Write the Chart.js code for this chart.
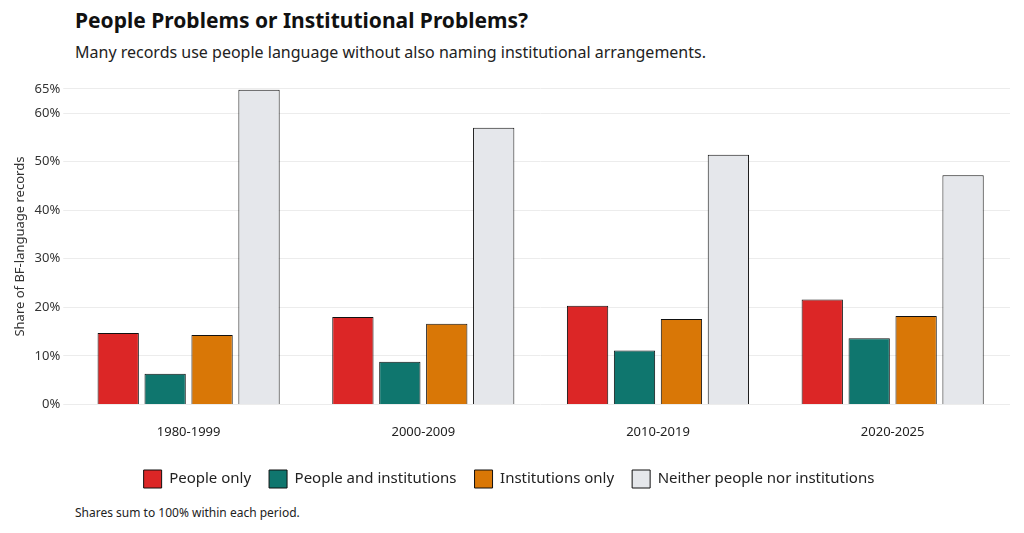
<!DOCTYPE html>
<html>
<head>
<meta charset="utf-8">
<script src="https://cdn.jsdelivr.net/npm/chart.js@4"></script>
<style>
  body { margin: 0; background: #fff; font-family: "Noto Sans", sans-serif; }
  #wrap { position: relative; width: 1024px; height: 533px; }
  h1 { position: absolute; left: 75px; top: 6px; margin: 0; font-size: 21px; font-weight: 700; color: #111; }
  .sub { position: absolute; left: 75px; top: 41px; margin: 0; font-size: 16px; color: #222; }
  .cap { position: absolute; left: 75px; top: 504px; margin: 0; font-size: 12px; color: #222; }
  #box { position: absolute; left: 0; top: 78px; width: 1010px; height: 420px; }
</style>
</head>
<body>
<div id="wrap">
  <h1>People Problems or Institutional Problems?</h1>
  <p class="sub">Many records use people language without also naming institutional arrangements.</p>
  <div id="box"><canvas id="c"></canvas></div>
  <p class="cap">Shares sum to 100% within each period.</p>
</div>
<script>
const periods = ['1980-1999', '2000-2009', '2010-2019', '2020-2025'];
const peopleOnly = [14.7, 18.0, 20.3, 21.6];
const peopleAndInst = [6.3, 8.8, 11.1, 13.6];
const instOnly = [14.3, 16.6, 17.6, 18.2];
const neither = [64.8, 57.0, 51.4, 47.2];
const seriesNames = ['People only', 'People and institutions', 'Institutions only', 'Neither people nor institutions'];
const colors = ['#dc2626', '#0f766e', '#d97706', '#e5e7eb'];

const seriesData = [peopleOnly, peopleAndInst, instOnly, neither];

new Chart(document.getElementById('c'), {
    type: 'bar',
    data: {
        labels: periods,
        datasets: seriesData.map((d, i) => ({
            label: seriesNames[i],
            data: d,
            backgroundColor: colors[i],
            borderColor: '#111',
            borderWidth: 1,
            barPercentage: 0.88,
            categoryPercentage: 0.8
        }))
    },
    options: {
        responsive: true,
        maintainAspectRatio: false,
        animation: false,
        layout: { padding: { left: 8, right: 0, top: 0, bottom: 0 } },
        scales: {
            y: {
                min: 0, max: 65,
                border: { display: false },
                grid: { color: '#ececec' },
                ticks: {
                    stepSize: 10,
                    color: '#333',
                    font: { family: 'Noto Sans', size: 13 },
                    callback: v => v + '%'
                },
                title: {
                    display: true,
                    text: 'Share of BF-language records',
                    color: '#333',
                    font: { family: 'Noto Sans', size: 13 }
                }
            },
            x: {
                border: { display: false },
                grid: { display: false },
                ticks: { color: '#222', padding: 12, font: { family: 'Noto Sans', size: 13 } }
            }
        },
        plugins: {
            legend: {
                position: 'bottom',
                labels: {
                    boxWidth: 18, boxHeight: 18,
                    padding: 18,
                    color: '#222',
                    font: { family: 'Noto Sans', size: 15 }
                }
            },
            tooltip: { enabled: false }
        }
    }
});
</script>
</body>
</html>
